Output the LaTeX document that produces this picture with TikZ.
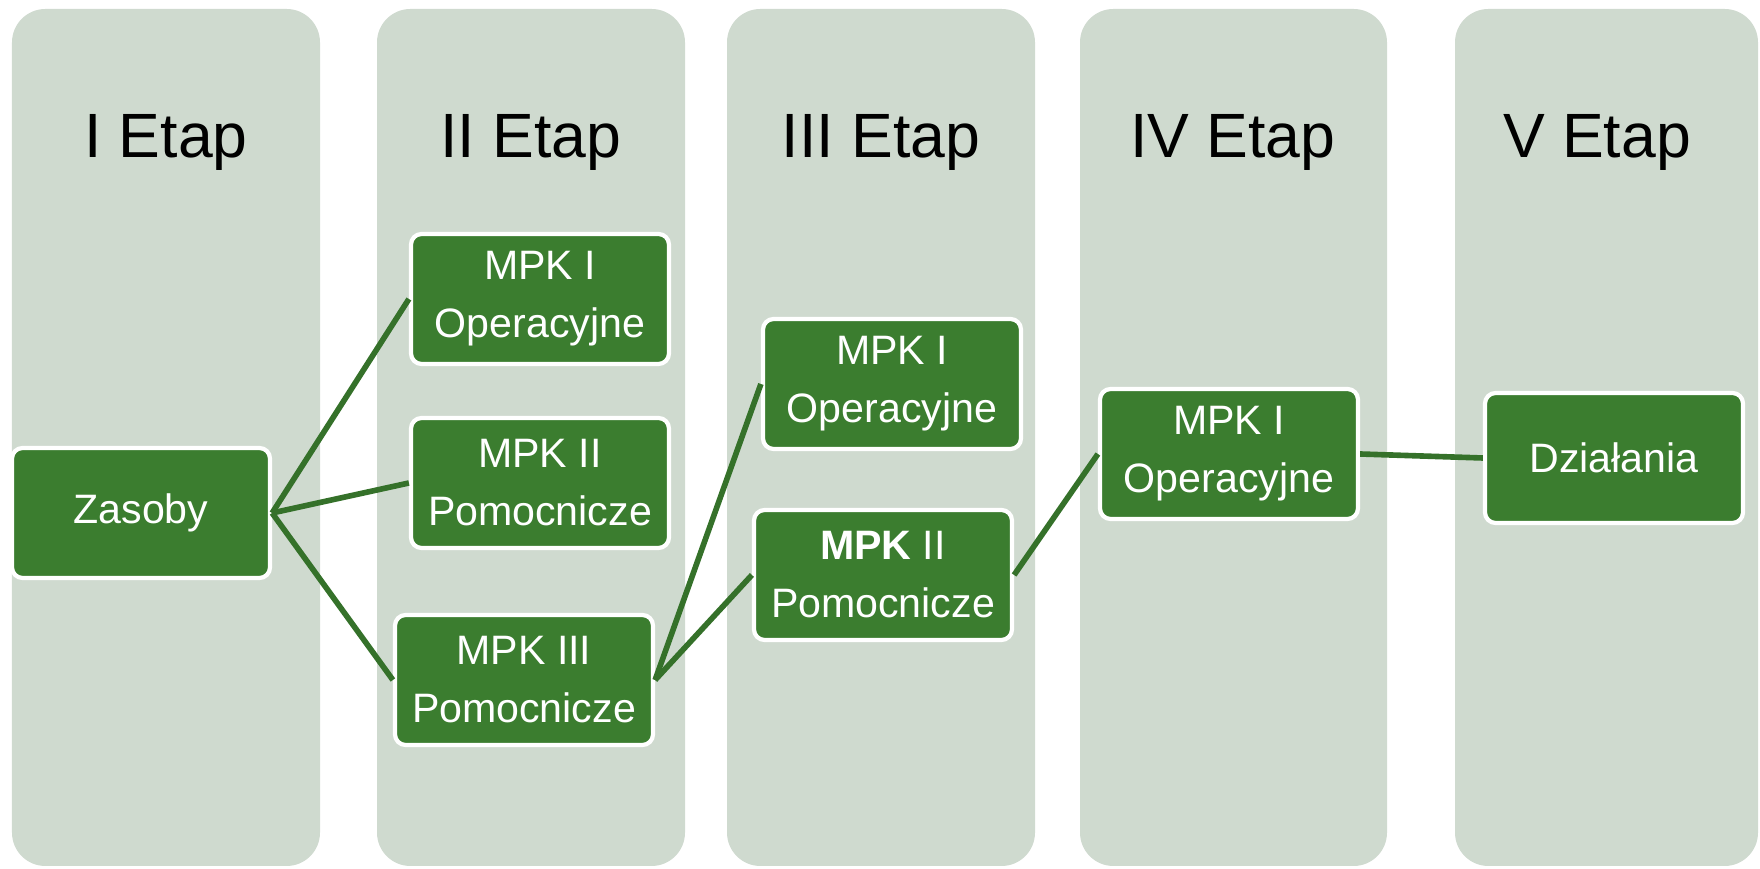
\documentclass[tikz,border=0pt]{standalone}
\usepackage{fontspec}
\setmainfont{Liberation Sans}
\usepackage{tikz}
\usetikzlibrary{positioning}
\definecolor{etapbg}{HTML}{CFDACF}
\definecolor{mpkgreen}{HTML}{3B7D2F}

\begin{document}
\begin{tikzpicture}
    \useasboundingbox (0, 0) rectangle (17.6, 8.69);
    % columns
    \begin{scope}[every path/.style={fill=etapbg, rounded corners=9.5pt}]
        \fill (0.12, 0.03) rectangle (3.20, 8.60);
        \fill (3.77, 0.03) rectangle (6.85, 8.60);
        \fill (7.27, 0.03) rectangle (10.35, 8.60);
        \fill (10.80, 0.03) rectangle (13.87, 8.60);
        \fill (14.55, 0.03) rectangle (17.58, 8.60);
    \end{scope}
    \begin{scope}[every node/.style={anchor=base,
        font=\fontsize{17.8}{20}\selectfont}]
        \node (t1) at (1.66, 7.11){I Etap};
        \node (t2) at (5.31, 7.11){II Etap};
        \node (t3) at (8.81, 7.11){III Etap};
        \node (t4) at (12.33, 7.11){IV Etap};
        \node (t5) at (15.97, 7.11){V Etap};
    \end{scope}
    \begin{scope}[every node/.style={draw=white, fill=mpkgreen, text=white,
        line width=1.2pt, rounded corners=3pt, align=center, inner sep=0pt,
        minimum width=2.58cm, minimum height=1.30cm,
        font=\fontsize{11.7}{16.5}\selectfont
        }]
        \node (z)at (1.41, 3.56){Zasoby};
        \node (a1)at (5.40, 5.70){MPK I\\Operacyjne};
        \node (a2)at (5.40, 3.86){MPK II\\Pomocnicze};
        \node (a3)at (5.24, 1.89){MPK III\\Pomocnicze};
        \node (b1)at (8.92, 4.85){MPK I\\Operacyjne};
        \node (b2)at (8.83, 2.94){\textbf{MPK} II\\Pomocnicze};
        \node (c1)at (12.29, 4.15){MPK I\\Operacyjne};
        \node (d1)at (16.14, 4.11){Działania};
    \end{scope}
    % connectors
    \begin{scope}[every path/.style={draw=mpkgreen!90!black, line width=1.6pt}]
        \draw (z.east) -- (a1.west);
        \draw (z.east) -- (a2.west);
        \draw (z.east) -- (a3.west);
        \draw (a3.east) -- (b1.west);
        \draw (a3.east) -- (b2.west);
        \draw (b2.east) -- (c1.west);
        \draw (c1.east) -- (d1.west);
    \end{scope}
\end{tikzpicture}
\end{document}
